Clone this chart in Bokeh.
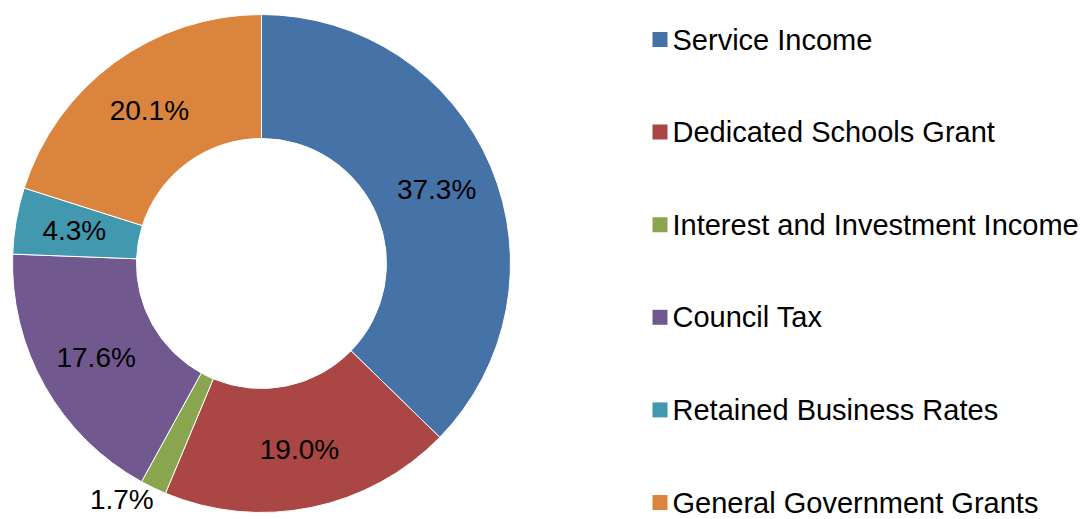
import math
from bokeh.plotting import figure
from bokeh.models import Range1d, ColumnDataSource
from bokeh.core.properties import value
from bokeh.embed import file_html
from bokeh.resources import INLINE

# ---- data ----
categories = ["Service Income", "Dedicated Schools Grant", "Interest and Investment Income",
              "Council Tax", "Retained Business Rates", "General Government Grants"]
shares = [37.3, 19.0, 1.7, 17.6, 4.3, 20.1]
colors = ["#4572A7", "#AA4643", "#89A54E", "#71588F", "#4198AF", "#DB843D"]

# ---- layout constants (page pixels) ----
W, H = 1085, 519
PAGE_H = 519
cx, cy = 261, PAGE_H - 263
r_out, r_in = 249, 125
r_lab = 190

total = sum(shares)
starts, ends, lx, ly, labels = [], [], [], [], []
out_x, out_y, out_t = [], [], []
cum = 0.0
for s in shares:
    a0 = math.pi / 2 - 2 * math.pi * cum / total
    cum += s
    a1 = math.pi / 2 - 2 * math.pi * cum / total
    starts.append(a0)
    ends.append(a1)
    mid = (a0 + a1) / 2
    txt = f"{s:.1f}%"
    if s < 3:
        out_x.append(cx + 262 * math.cos(mid) + 6)
        out_y.append(cy + 262 * math.sin(mid))
        out_t.append(txt)
    else:
        lx.append(cx + r_lab * math.cos(mid))
        ly.append(cy + r_lab * math.sin(mid))
        labels.append(txt)

p = figure(width=W, height=H, output_backend="svg", toolbar_location=None,
           x_range=Range1d(0, W), y_range=Range1d(PAGE_H - H, PAGE_H),
           min_border=0, outline_line_color=None)
p.axis.visible = False
p.grid.visible = False
p.background_fill_color = "white"
p.border_fill_color = "white"

src = ColumnDataSource(dict(start=starts, end=ends, color=colors, name=categories))
p.annular_wedge(x=cx, y=cy, inner_radius=r_in, outer_radius=r_out,
                start_angle="start", end_angle="end", direction="clock",
                fill_color="color", line_color="white", line_width=1, source=src)

font = value("Liberation Sans")
p.text(x=lx, y=ly, text=labels, text_font=font, text_font_size="28px",
       text_align="center", text_baseline="middle", text_color="black")
p.text(x=out_x, y=out_y, text=out_t, text_font=font, text_font_size="28px",
       text_align="right", text_baseline="middle", text_color="black")

# legend
leg_top = PAGE_H - 39
leg_step = 92.6
leg_y = [leg_top - i * leg_step for i in range(len(categories))]
p.rect(x=[659.5] * len(categories), y=leg_y, width=15, height=15,
       fill_color=colors, line_color=None)
p.text(x=[672] * len(categories), y=leg_y, text=categories, text_font=font,
       text_font_size="29px", text_align="left", text_baseline="middle",
       text_color="black")

open("out.html", "w").write(file_html(p, INLINE))
